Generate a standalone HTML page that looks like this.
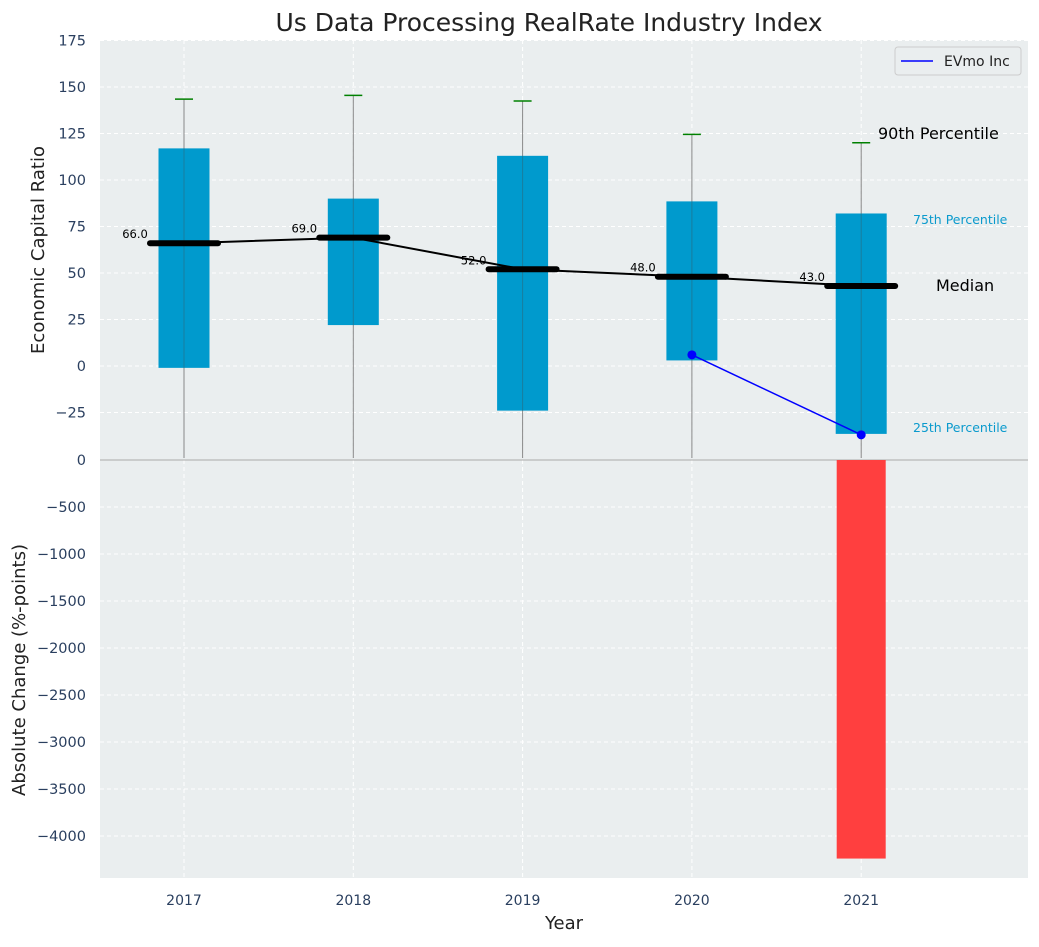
<!DOCTYPE html>
<html><head><meta charset="utf-8"><style>
body{margin:0;background:#fff;}
svg text{font-family:"DejaVu Sans","Liberation Sans",sans-serif;}
</style></head><body>
<svg id="chart" width="1039" height="942" xmlns="http://www.w3.org/2000/svg"></svg>
<script>
const years=["2017","2018","2019","2020","2021"];
const p25=[-1,22,-24,3,-36.5];
const p75=[117,90,113,88.5,82];
const p90=[143.5,145.5,142.5,124.5,120];
const medians=[66,69,52,48,43];
const evmo=[null,null,null,6,-37];
const absChange=[0,0,0,0,-4240];
const topTicks=[175,150,125,100,75,50,25,0,-25];
const botTicks=[0,-500,-1000,-1500,-2000,-2500,-3000,-3500,-4000];

const svg=document.getElementById('chart');
const NS='http://www.w3.org/2000/svg';
function mk(tag,attrs,parent){const e=document.createElementNS(NS,tag);for(const k in attrs)e.setAttribute(k,attrs[k]);(parent||svg).appendChild(e);return e;}
const L=100,R=1028,T1=40,B1=460,B2=878;
const xS=i=>184+i*169.3;
const yT=v=>366-v*46.5/25;
function yBot(v){return 460+(-v)*47/500;}
const fmt=t=>String(t).replace('-','\u2212');

let bg=mk('rect',{x:L,y:T1,width:R-L,height:B2-T1,fill:'#eaeeef'});

topTicks.forEach(t=>{mk('line',{x1:L,x2:R,y1:yT(t),y2:yT(t),stroke:'#fff','stroke-dasharray':'4,3','stroke-width':1});
 const tx=mk('text',{x:L-14,y:yT(t)+5,'text-anchor':'end','font-size':14.5,fill:'#2a3f5f'});tx.textContent=fmt(t);
 });
botTicks.forEach(t=>{if(t!==0)mk('line',{x1:L,x2:R,y1:yBot(t),y2:yBot(t),stroke:'#fff','stroke-dasharray':'4,3','stroke-width':1});
 const tx=mk('text',{x:L-14,y:yBot(t)+5,'text-anchor':'end','font-size':14.5,fill:'#2a3f5f'});tx.textContent=fmt(t);
 });
years.forEach((y,i)=>{mk('line',{x1:xS(i),x2:xS(i),y1:T1,y2:B2,stroke:'#fff','stroke-dasharray':'4,3'});
 const tx=mk('text',{x:xS(i),y:905,'text-anchor':'middle','font-size':14,fill:'#2a3f5f'});tx.textContent=y;
 });
mk('line',{x1:L,x2:R,y1:460,y2:460,stroke:'#aaa','stroke-width':1});

years.forEach((y,i)=>{const x=xS(i);
 const w=mk('line',{x1:x,x2:x,y1:yT(p90[i]),y2:458,stroke:'#888','stroke-width':1});
 
 const b=mk('rect',{x:x-25.5,y:yT(p75[i]),width:51,height:yT(p25[i])-yT(p75[i]),fill:'#009acd'});
 
 mk('line',{x1:x,x2:x,y1:yT(p75[i]),y2:yT(p25[i]),stroke:'#2a6a80','stroke-width':1,opacity:0.6});
 const c=mk('line',{x1:x-9,x2:x+9,y1:yT(p90[i]),y2:yT(p90[i]),stroke:'green','stroke-width':1.5});
 
 const m=mk('line',{x1:x-34,x2:x+34,y1:yT(medians[i]),y2:yT(medians[i]),stroke:'#000','stroke-width':6,'stroke-linecap':'round'});
 
 const t=mk('text',{x:x-49,y:yT(medians[i])-5,'text-anchor':'middle','font-size':11.5,fill:'#000'});t.textContent=medians[i].toFixed(1);
 
 if(absChange[i]!==0){const r=mk('rect',{x:x-24.5,y:460,width:49,height:yBot(absChange[i])-460,fill:'#ff3f3f'});
  }
});
const ml=mk('polyline',{points:medians.map((v,i)=>xS(i)+','+yT(v)).join(' '),fill:'none',stroke:'#000','stroke-width':2});

const pts=evmo.map((v,i)=>v===null?null:[xS(i),yT(v)]).filter(p=>p);
const el=mk('polyline',{points:pts.map(p=>p.join(',')).join(' '),fill:'none',stroke:'blue','stroke-width':1.5});

pts.forEach(p=>{const c=mk('circle',{cx:p[0],cy:p[1],r:4.5,fill:'blue'});
 });

function txt(s,x,y,sz,fill,name,anchor,extra){const t=mk('text',Object.assign({x:x,y:y,'font-size':sz,fill:fill,'text-anchor':anchor||'start'},extra||{}));t.textContent=s;
 return t;}
txt('90th Percentile',878,139,16,'#000','p90-annotation');
txt('75th Percentile',913,224,12.5,'#0a9acd','p75-annotation');
txt('Median',936,291,16,'#000','median-annotation');
txt('25th Percentile',913,432,12.5,'#0a9acd','p25-annotation');
txt('Us Data Processing RealRate Industry Index',549,31,25,'#222','chart-title','middle');
txt('Year',564,929,18,'#222','x-axis-title','middle');
txt('Economic Capital Ratio',44,250,18,'#222','y-axis-title-top','middle',{transform:'rotate(-90 44 250)'});
txt('Absolute Change (%-points)',25,670,18,'#222','y-axis-title-bottom','middle',{transform:'rotate(-90 25 670)'});
const lg=mk('g',{});
mk('rect',{x:895,y:47,width:126,height:28,rx:3,fill:'#eaeeef',stroke:'#ccc'},lg);
mk('line',{x1:901,x2:933,y1:61,y2:61,stroke:'blue','stroke-width':1.5},lg);
const lt=mk('text',{x:944,y:66,'font-size':14,fill:'#222'},lg);lt.textContent='EVmo Inc';

</script>
</body></html>
